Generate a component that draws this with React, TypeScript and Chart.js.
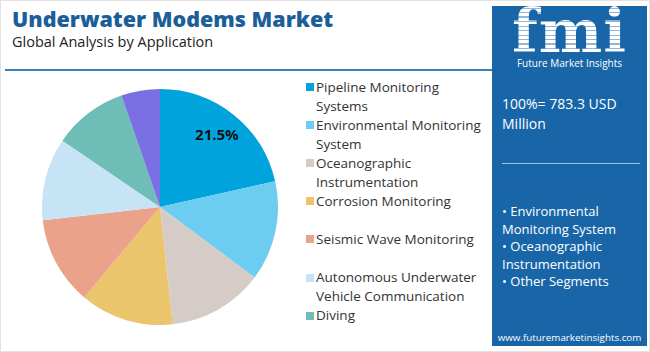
import React, { useEffect, useRef } from "react";
import { Chart, registerables } from "chart.js";

Chart.register(...registerables);

const categories = [
  "Pipeline Monitoring Systems",
  "Environmental Monitoring System",
  "Oceanographic Instrumentation",
  "Corrosion Monitoring",
  "Seismic Wave Monitoring",
  "Autonomous Underwater Vehicle Communication",
  "Diving",
  "Others",
];
const values = [21.5, 13.7, 13.1, 12.8, 12.1, 11.3, 10.2, 5.3];
const colors = ["#00a3dc", "#6ccdf0", "#d5cbc7", "#ebc56c", "#eba28a", "#c6e4f5", "#6fbdb7", "#7a70e4"];
const legendLines = [
  ["Pipeline Monitoring", "Systems"],
  ["Environmental Monitoring", "System"],
  ["Oceanographic", "Instrumentation"],
  ["Corrosion Monitoring", ""],
  ["Seismic Wave Monitoring", ""],
  ["Autonomous Underwater", "Vehicle Communication"],
  ["Diving", ""],
];
const labelledIndex = 0;
const totalLines = ["100%= 783.3 USD", "Million"];
const bulletLines = ["• Environmental", "Monitoring System", "• Oceanographic", "Instrumentation", "• Other Segments"];

const FONT = "'Open Sans', 'Noto Sans', sans-serif";

const labelPlugin = {
  id: "sliceLabel",
  afterDatasetsDraw(chart: any) {
    const meta = chart.getDatasetMeta(0);
    const arc = meta.data[labelledIndex];
    if (!arc) return;
    const { x, y, startAngle, endAngle, outerRadius } = arc.getProps(["x", "y", "startAngle", "endAngle", "outerRadius"], true);
    const mid = (startAngle + endAngle) / 2;
    const r = outerRadius * 0.77;
    const ctx = chart.ctx;
    ctx.save();
    ctx.font = `700 15px ${FONT}`;
    ctx.fillStyle = "#111";
    ctx.textAlign = "center";
    ctx.textBaseline = "middle";
    ctx.fillText(values[labelledIndex].toFixed(1) + "%", x + Math.cos(mid) * r, y + Math.sin(mid) * r);
    ctx.restore();
  },
};

export default function App() {
  const ref = useRef<HTMLCanvasElement>(null);
  useEffect(() => {
    if (!ref.current) return;
    const chart = new Chart(ref.current, {
      type: "pie",
      data: {
        labels: categories,
        datasets: [{ data: values, backgroundColor: colors, borderWidth: 0 }],
      },
      options: {
        responsive: false,
        maintainAspectRatio: false,
        animation: false,
        layout: { padding: 0 },
        plugins: { legend: { display: false }, tooltip: { enabled: false } },
      },
      plugins: [labelPlugin],
    });
    return () => chart.destroy();
  }, []);

  return (
    <div
      style={{
        position: "fixed",
        left: 0,
        top: 0,
        width: 650,
        height: 352,
        boxSizing: "border-box",
        border: "1px solid #e2e2e2",
        background: "#fff",
        fontFamily: FONT,
        overflow: "hidden",
      }}
    >
      <div style={{ position: "absolute", left: 11, top: 3, fontSize: 21.5, fontWeight: 800, color: "#1a5e9a", whiteSpace: "nowrap" }}>
        Underwater Modems Market
      </div>
      <div style={{ position: "absolute", left: 11, top: 31, fontSize: 14.5, color: "#222", whiteSpace: "nowrap" }}>
        Global Analysis by Application
      </div>
      <div style={{ position: "absolute", left: 4, top: 68, width: 492, height: 2, background: "#3b7fc2" }} />

      <canvas ref={ref} width={236} height={236} style={{ position: "absolute", left: 41, top: 88, width: 236, height: 236 }} />

      {legendLines.map((lines, i) => (
        <div key={i} style={{ position: "absolute", left: 305, top: 76.5 + i * 38.1, height: 38 }}>
          <div style={{ position: "absolute", left: 0, top: 5.5, width: 8, height: 8, background: colors[i] }} />
          <div style={{ position: "absolute", left: 10, top: 0, fontSize: 13.5, lineHeight: "19px", color: "#333", whiteSpace: "nowrap" }}>
            <div>{lines[0]}</div>
            <div>{lines[1]}</div>
          </div>
        </div>
      ))}

      <div style={{ position: "absolute", left: 491, top: 5, width: 155, height: 340, background: "#1866a8" }}>
        <div
          style={{
            position: "absolute",
            left: 0,
            width: 155,
            top: -6,
            textAlign: "center",
            fontSize: 60,
            fontWeight: 900,
            fontFamily: "'DejaVu Serif', serif",
            letterSpacing: 1,
            lineHeight: "62px",
            color: "#fff",
            backgroundImage: "repeating-linear-gradient(180deg, #ffffff 0px, #ffffff 3px, #8fb7dc 3px, #8fb7dc 4.5px)",
            WebkitBackgroundClip: "text",
            backgroundClip: "text",
            WebkitTextFillColor: "transparent",
          }}
        >
          fmi
        </div>
        <div style={{ position: "absolute", left: 0, width: 155, top: 50, textAlign: "center", fontSize: 10, color: "#fff", whiteSpace: "nowrap" }}>
          Future Market Insights
        </div>
        <div style={{ position: "absolute", left: 10, top: 88, fontSize: 14, lineHeight: "20px", color: "#fff", whiteSpace: "nowrap" }}>
          {totalLines.map((t, i) => (
            <div key={i}>{t}</div>
          ))}
        </div>
        <div style={{ position: "absolute", left: 10, top: 157, width: 138, height: 1, background: "rgba(255,255,255,0.6)" }} />
        <div style={{ position: "absolute", left: 10, top: 197, fontSize: 13, lineHeight: "17.5px", color: "#fff", whiteSpace: "nowrap" }}>
          {bulletLines.map((t, i) => (
            <div key={i}>{t}</div>
          ))}
        </div>
        <div style={{ position: "absolute", left: 0, width: 155, top: 325, textAlign: "center", fontSize: 9.8, color: "#fff", whiteSpace: "nowrap" }}>
          www.futuremarketinsights.com
        </div>
      </div>
    </div>
  );
}
